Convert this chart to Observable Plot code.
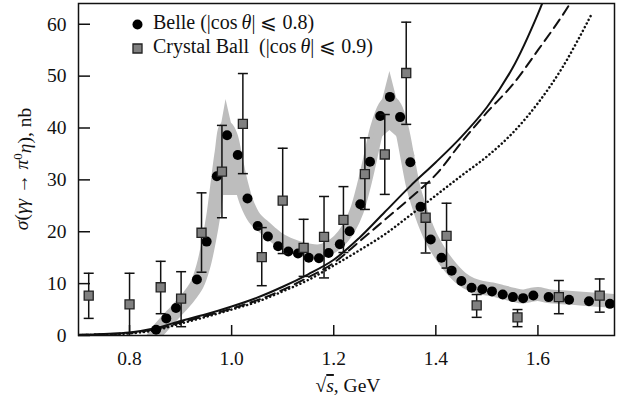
<!DOCTYPE html>
<html>
<head>
<meta charset="utf-8">
<script src="https://cdn.jsdelivr.net/npm/d3@7"></script>
<script src="https://cdn.jsdelivr.net/npm/@observablehq/plot@0.6"></script>
<style>
  body { margin: 0; background: #fff; }
  #chart svg { display: block; }
  #chart svg text, #chart svg tspan { font-family: "Liberation Serif", "Times New Roman", "DejaVu Serif", serif !important; }
</style>
</head>
<body>
<div id="chart"></div>
<script>
// Belle measurement, |cos θ| ≤ 0.8 (√s in GeV, σ in nb)
const belleX = [0.852, 0.872, 0.891, 0.932, 0.951, 0.971, 0.991, 1.012, 1.031, 1.051, 1.071, 1.091, 1.111, 1.130, 1.151, 1.171, 1.190, 1.212, 1.231, 1.252, 1.271, 1.291, 1.310, 1.330, 1.350, 1.370, 1.390, 1.411, 1.431, 1.450, 1.470, 1.491, 1.510, 1.531, 1.551, 1.571, 1.591, 1.621, 1.661, 1.700, 1.741];
const belleY = [1.1, 3.3, 5.3, 10.8, 18.1, 30.7, 38.6, 34.8, 26.4, 21.1, 19.1, 17.2, 16.2, 15.8, 15.0, 14.9, 15.9, 17.6, 20.1, 25.3, 33.5, 42.3, 46.0, 42.1, 33.4, 24.8, 18.5, 15.0, 12.5, 10.5, 9.2, 8.9, 8.5, 7.9, 7.4, 7.2, 7.7, 7.4, 6.9, 6.6, 6.1];

// Crystal Ball measurement, |cos θ| ≤ 0.9, with error bars
const cbX  = [0.720, 0.800, 0.861, 0.901, 0.941, 0.981, 1.022, 1.059, 1.100, 1.141, 1.181, 1.219, 1.261, 1.300, 1.342, 1.380, 1.421, 1.480, 1.560, 1.641, 1.721];
const cbY  = [7.7, 6.0, 9.3, 7.1, 19.8, 31.6, 40.8, 15.1, 26.0, 16.9, 19.0, 22.3, 31.1, 34.9, 50.6, 22.7, 19.2, 5.8, 3.5, 7.4, 7.7];
const cbHi = [12.0, 12.0, 14.3, 12.3, 27.5, 40.5, 50.5, 20.8, 36.1, 22.4, 26.8, 28.7, 38.1, 42.6, 60.4, 29.4, 25.5, 7.9, 5.0, 10.6, 10.9];
const cbLo = [3.3, 0.0, 4.2, 1.7, 12.2, 22.7, 31.2, 9.6, 15.8, 11.4, 11.1, 16.0, 24.3, 27.2, 40.7, 15.9, 13.0, 3.5, 1.7, 4.2, 4.5];

// Fit band (centre line) through the Belle data
const bandX = [0.843, 0.852, 0.872, 0.891, 0.912, 0.932, 0.945, 0.955, 0.964, 0.972, 0.980, 0.989, 0.998, 1.008, 1.018, 1.030, 1.045, 1.060, 1.075, 1.090, 1.110, 1.130, 1.150, 1.170, 1.190, 1.210, 1.230, 1.245, 1.258, 1.270, 1.285, 1.300, 1.310, 1.320, 1.333, 1.345, 1.355, 1.365, 1.378, 1.392, 1.410, 1.430, 1.450, 1.470, 1.490, 1.510, 1.530, 1.550, 1.570, 1.585, 1.600, 1.620, 1.660, 1.700, 1.755];
const bandY = [-1, 0.4, 2.7, 4.7, 7.0, 9.8, 13.5, 18, 23, 29, 35, 40, 38.5, 34, 29.5, 25.5, 22.6, 21.2, 19.9, 18.7, 17.6, 16.9, 16.4, 16.2, 16.8, 18.2, 20.8, 24, 28.5, 33.5, 40, 44, 45, 44, 40, 34, 29, 25.5, 21.8, 18.6, 15.6, 13.0, 11.0, 9.8, 9.2, 8.9, 8.4, 7.9, 7.5, 7.8, 8.0, 7.6, 7.3, 7.0, 6.6];

// Pointed tips of the band at the f0(980) and a2(1320) peaks
const f0TipX  = [0.960, 0.963, 0.989, 1.022, 1.032];
const f0TipLo = [27, 27, 27, 27, 26];
const f0TipHi = [27, 31.2, 45.5, 31.2, 26];
const a2TipX  = [1.269, 1.290, 1.310, 1.330, 1.360];
const a2TipLo = [34.4, 37.8, 39.5, 37.8, 34.4];
const a2TipHi = [34.4, 43.2, 50.9, 43.2, 34.4];

// Model predictions
const solidX = [0.70, 0.75, 0.80, 0.85, 0.90, 0.95, 1.00, 1.05, 1.10, 1.15, 1.20, 1.25, 1.30, 1.35, 1.40, 1.45, 1.50, 1.55, 1.60, 1.65];
const solidY = [0.15, 0.3, 0.6, 1.4, 2.8, 4.1, 5.6, 7.3, 9.4, 11.8, 14.6, 18.8, 23.8, 28.8, 33.4, 38.3, 44.0, 51.5, 62.0, 75];
const dashX = [0.70, 0.75, 0.80, 0.85, 0.90, 0.95, 1.00, 1.05, 1.10, 1.15, 1.20, 1.25, 1.30, 1.35, 1.40, 1.45, 1.50, 1.55, 1.60, 1.65, 1.70];
const dashY = [0.1, 0.25, 0.5, 1.2, 2.5, 3.8, 5.2, 6.8, 8.8, 11.2, 14.0, 18.1, 22.3, 26.5, 31.0, 37.2, 43.0, 48.3, 55.0, 62.0, 70];
const dotX = [0.70, 0.75, 0.80, 0.85, 0.90, 0.95, 1.00, 1.05, 1.10, 1.15, 1.20, 1.25, 1.30, 1.35, 1.40, 1.45, 1.50, 1.55, 1.60, 1.65, 1.706];
const dotY = [0.05, 0.2, 0.4, 1.0, 2.3, 3.6, 5.0, 6.5, 8.5, 10.7, 13.5, 16.4, 19.5, 23.2, 27.0, 30.8, 34.5, 39.0, 44.8, 52.0, 62.1];

const xTicks = [0.8, 1.0, 1.2, 1.4, 1.6];
const yTicks = [0, 10, 20, 30, 40, 50, 60];

const ink = "#111";
const bandColor = "#bdbdbd";
const squareFill = "#808080";
const serif = "'Liberation Serif', 'Times New Roman', 'DejaVu Serif', serif";

// horizontal cap drawn at the ends of each error bar
const cap = { draw(ctx) { ctx.moveTo(-5, 0); ctx.lineTo(5, 0); } };

const idx = (a) => a.map((_, i) => i);

const W = 632, H = 403;
const M = { top: 3, right: 18, bottom: 68, left: 78 };

const chart = Plot.plot({
  width: W,
  height: H,
  marginTop: M.top,
  marginRight: M.right,
  marginBottom: M.bottom,
  marginLeft: M.left,
  style: { fontFamily: serif, fontSize: "19.5px", color: ink, background: "#fff" },
  x: { domain: [0.70, 1.75] },
  y: { domain: [0, 64] },
  marks: [
    // fit band
    Plot.line(bandX, { x: bandX, y: bandY, curve: "catmull-rom", stroke: bandColor, strokeWidth: 14, strokeLinecap: "butt", clip: true }),
    Plot.areaY(f0TipX, { x: f0TipX, y1: f0TipLo, y2: f0TipHi, fill: bandColor }),
    Plot.areaY(a2TipX, { x: a2TipX, y1: a2TipLo, y2: a2TipHi, fill: bandColor }),

    // model curves
    Plot.line(solidX, { x: solidX, y: solidY, curve: "catmull-rom", stroke: ink, strokeWidth: 2, clip: true }),
    Plot.line(dashX, { x: dashX, y: dashY, curve: "catmull-rom", stroke: ink, strokeWidth: 2, strokeDasharray: "10,6", clip: true }),
    Plot.line(dotX, { x: dotX, y: dotY, curve: "catmull-rom", stroke: ink, strokeWidth: 2.5, strokeDasharray: "0.1,4", strokeLinecap: "round", clip: true }),

    // Belle points
    Plot.dot(belleX, { x: belleX, y: belleY, r: 5, fill: "#000", stroke: null }),

    // Crystal Ball error bars and points
    Plot.ruleX(cbX, { x: cbX, y1: cbLo, y2: cbHi, stroke: ink, strokeWidth: 1.5 }),
    Plot.dot(idx(cbX), { x: cbX, y: cbHi, symbol: cap, fill: "none", stroke: ink, strokeWidth: 1.5 }),
    Plot.dot(idx(cbX).filter(i => cbLo[i] > 0), { x: i => cbX[i], y: i => cbLo[i], symbol: cap, fill: "none", stroke: ink, strokeWidth: 1.5 }),
    Plot.dot(cbX, { x: cbX, y: cbY, symbol: "square", r: 5.1, fill: squareFill, stroke: "#222", strokeWidth: 1.3 }),

    // legend swatches
    Plot.dot([0], { frameAnchor: "top-left", dx: 59, dy: 21, r: 5, fill: "#000", stroke: null }),
    Plot.dot([0], { frameAnchor: "top-left", dx: 59, dy: 45, symbol: "square", r: 5.1, fill: squareFill, stroke: "#222", strokeWidth: 1.3 }),

    // axes with inward ticks
    Plot.axisY({ ticks: yTicks, tickSize: -12, tickPadding: 24, label: null, strokeWidth: 1.5 }),
    Plot.axisX({ ticks: xTicks, tickSize: -10, tickPadding: 26, label: null, tickFormat: d3.format(".1f"), strokeWidth: 1.5 }),
    Plot.frame({ stroke: ink, strokeWidth: 1.5 })
  ]
});

const svg = d3.select(chart);

function styledText(sel, size = 19.5) {
  return sel.attr("fill", ink).attr("font-family", serif).attr("font-size", size)
    .style("font-family", serif).style("font-size", size + "px");
}

// legend text
function legendLine(x, y, parts) {
  const t = styledText(svg.append("text").attr("x", x).attr("y", y).attr("text-anchor", "start"), 20);
  parts.forEach(([s, it]) => t.append("tspan").style("font-style", it ? "italic" : "normal").text(s));
}
legendLine(153, 29, [["Belle (|cos\u2009", false], ["θ", true], ["| ⩽ 0.8)", false]]);
legendLine(153, 53, [["Crystal Ball  (|cos\u2009", false], ["θ", true], ["| ⩽ 0.9)", false]]);

// x-axis title
const xl = styledText(svg.append("text")
  .attr("x", (M.left + W - M.right) / 2 + 2).attr("y", 392)
  .attr("text-anchor", "middle"));
xl.append("tspan").text("√");
xl.append("tspan").style("font-style", "italic").style("text-decoration", "overline").text("s");
xl.append("tspan").text(", GeV");

// y-axis title
const yl = styledText(svg.append("text")
  .attr("transform", `translate(28,${(M.top + H - M.bottom) / 2}) rotate(-90)`)
  .attr("text-anchor", "middle"));
yl.append("tspan").style("font-style", "italic").text("σ");
yl.append("tspan").text("(");
yl.append("tspan").style("font-style", "italic").text("γγ");
yl.append("tspan").text(" → ");
yl.append("tspan").style("font-style", "italic").text("π");
yl.append("tspan").attr("dy", "-0.45em").style("font-size", "13px").text("0");
yl.append("tspan").attr("dy", "0.45em").style("font-style", "italic").text("η");
yl.append("tspan").text("), nb");

document.getElementById("chart").appendChild(chart);
</script>
</body>
</html>
